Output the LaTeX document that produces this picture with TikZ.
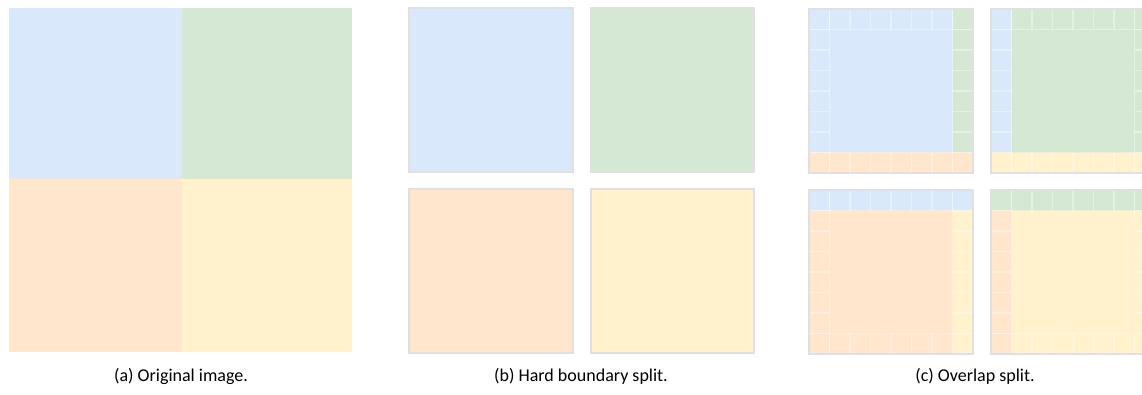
\documentclass[tikz,border=0pt]{standalone}
\usepackage{fontspec}
\setmainfont{Carlito}
\usepackage{tikz}
\usetikzlibrary{positioning,calc}
\definecolor{tileblue}{HTML}{DAE8FC}
\definecolor{tilegreen}{HTML}{D5E8D4}
\definecolor{tileorange}{HTML}{FFE6CC}
\definecolor{tileyellow}{HTML}{FFF2CC}
\tikzset{
  frame/.style = {draw=black!12, line width=1.4},
  cellline/.style = {draw=white, line width=0.9, opacity=0.35},
  caption/.style = {font=\fontsize{13.5}{16}\selectfont, anchor=base, inner sep=0pt}
}
% ring of halo cells round one overlap tile (8 x 8 cells)
\newcommand{\halogrid}[2]{%
  \foreach \k in {1,...,7}{
    \draw[cellline] ($(#1,#2)+(\k*20.5,0)$) -- ++(0,20.5);
    \draw[cellline] ($(#1,#2)+(\k*20.5,143.5)$) -- ++(0,20.5);
    \draw[cellline] ($(#1,#2)+(0,\k*20.5)$) -- ++(20.5,0);
    \draw[cellline] ($(#1,#2)+(143.5,\k*20.5)$) -- ++(20.5,0);
  }
  \foreach \k in {1,7}{
    \draw[cellline] ($(#1,#2)+(\k*20.5,0)$) -- ++(0,164);
    \draw[cellline] ($(#1,#2)+(0,\k*20.5)$) -- ++(164,0);
  }
  \draw[frame] (#1,#2) rectangle ++(164,164);
}

\begin{document}
\begin{tikzpicture}[x=0.75pt, y=-0.75pt]
\clip (0,0) rectangle (1142,394);
\fill[white] (0,0) rectangle (1142,394);

% (a) original image
\fill[tileblue]   (9,8)     rectangle (182,179);
\fill[tilegreen]  (182,8)   rectangle (352,179);
\fill[tileorange] (9,179)   rectangle (182,352);
\fill[tileyellow] (182,179) rectangle (352,352);
\node[caption] (capa) at (181,381) {(a) Original image.};

% (b) hard boundary split
\filldraw[frame, fill=tileblue]   (409,8)   rectangle ++(164,164);
\filldraw[frame, fill=tilegreen]  (591,8)   rectangle ++(163,164);
\filldraw[frame, fill=tileorange] (409,189) rectangle ++(164,164);
\filldraw[frame, fill=tileyellow] (591,189) rectangle ++(163,164);
\node[caption] (capb) at (581,381) {(b) Hard boundary split.};

% (c) overlap split, top left
\fill[tileblue]   (809,9)     rectangle ++(164,164);
\fill[tilegreen]  (952.5,9)   rectangle ++(20.5,143.5);
\fill[tileorange] (809,152.5) rectangle ++(164,20.5);
\halogrid{809}{9}
% top right
\fill[tilegreen]  (991,9)     rectangle ++(164,164);
\fill[tileblue]   (991,9)     rectangle ++(20.5,143.5);
\fill[tileyellow] (991,152.5) rectangle ++(164,20.5);
\halogrid{991}{9}
% bottom left
\fill[tileorange] (809,190)   rectangle ++(164,164);
\fill[tileblue]   (809,190)   rectangle ++(164,20.5);
\fill[tileyellow] (952.5,210.5) rectangle ++(20.5,143.5);
\halogrid{809}{190}
% bottom right
\fill[tileyellow] (991,190)   rectangle ++(164,164);
\fill[tilegreen]  (991,190)   rectangle ++(164,20.5);
\fill[tileorange] (991,210.5) rectangle ++(20.5,143.5);
\halogrid{991}{190}
\node[caption] (capc) at (975,381) {(c) Overlap split.};

\end{tikzpicture}
\end{document}
